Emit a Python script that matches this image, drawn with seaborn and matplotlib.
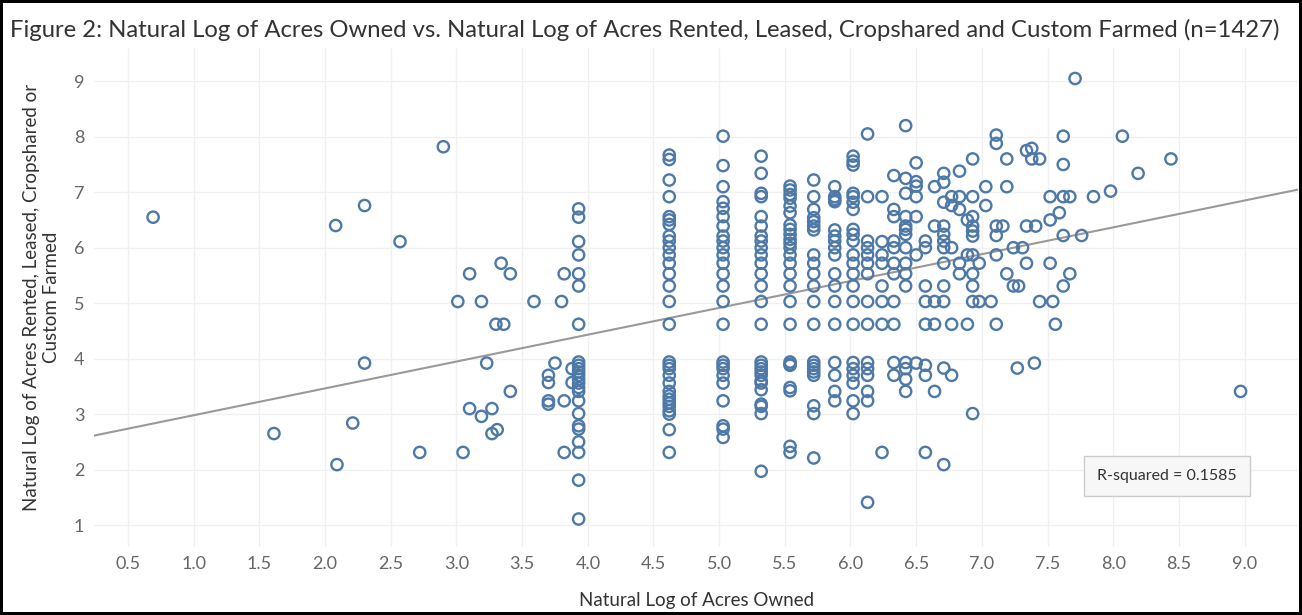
import numpy as np
import pandas as pd
import seaborn as sns
import matplotlib.pyplot as plt

# scattered points (ln acres owned, ln acres rented)
owned_scatter = [0.69, 1.61, 2.08, 2.30, 2.57, 2.90, 3.10, 3.34, 3.01, 3.19, 3.30, 3.36,
                 2.30, 3.23, 3.10, 3.27, 3.19, 3.27, 3.31, 2.21, 2.09, 2.72, 3.05, 3.41,
                 3.59, 3.80, 3.82, 3.41, 3.75, 3.70, 3.70, 3.70, 3.70, 3.82, 3.88, 3.88, 3.82]
rented_scatter = [6.55, 2.65, 6.40, 6.76, 6.11, 7.82, 5.53, 5.72, 5.03, 5.03, 4.62, 4.62,
                  3.92, 3.92, 3.10, 3.10, 2.96, 2.65, 2.72, 2.84, 2.09, 2.31, 2.31, 5.53,
                  5.03, 5.03, 5.53, 3.41, 3.92, 3.70, 3.57, 3.24, 3.18, 3.24, 3.82, 3.57, 2.31]

# vertical stacks at common owned values
stack_x = [3.93, 4.62, 5.03, 5.32, 5.54, 5.72, 5.88, 6.02, 6.13, 6.24, 6.33, 6.42]
stack_y = [
    [6.70, 6.55, 6.11, 5.87, 5.53, 5.31, 4.62, 3.94, 3.88, 3.82, 3.76, 3.70, 3.63, 3.56,
     3.48, 3.41, 3.24, 3.01, 2.79, 2.73, 2.50, 2.31, 1.81, 1.11],
    [7.67, 7.59, 7.22, 6.92, 6.56, 6.50, 6.42, 6.21, 6.12, 6.00, 5.87, 5.72, 5.53, 5.31,
     5.03, 4.62, 3.94, 3.88, 3.82, 3.70, 3.56, 3.41, 3.33, 3.27, 3.20, 3.14, 3.06, 3.00,
     2.72, 2.31],
    [8.01, 7.48, 7.10, 6.83, 6.71, 6.56, 6.39, 6.21, 6.12, 6.00, 5.87, 5.72, 5.53, 5.31,
     5.03, 4.62, 3.94, 3.88, 3.82, 3.70, 3.56, 3.24, 2.79, 2.73, 2.58],
    [7.65, 7.34, 6.98, 6.92, 6.56, 6.39, 6.21, 6.12, 6.00, 5.87, 5.72, 5.53, 5.31, 5.03,
     4.62, 3.94, 3.88, 3.82, 3.76, 3.70, 3.60, 3.56, 3.44, 3.18, 3.14, 3.01, 1.97],
    [7.11, 7.04, 6.96, 6.89, 6.75, 6.63, 6.41, 6.33, 6.24, 6.15, 6.08, 6.00, 5.87, 5.72,
     5.53, 5.31, 5.03, 4.62, 3.94, 3.90, 3.88, 3.48, 3.42, 2.42, 2.31],
    [7.22, 6.92, 6.69, 6.54, 6.47, 6.39, 6.32, 5.87, 5.72, 5.53, 5.31, 5.03, 4.62, 3.94,
     3.88, 3.82, 3.76, 3.70, 3.15, 3.01, 2.21],
    [7.10, 6.92, 6.87, 6.83, 6.32, 6.21, 6.12, 6.00, 5.87, 5.53, 5.31, 5.03, 4.62, 3.93,
     3.70, 3.41, 3.24],
    [7.65, 7.56, 7.49, 6.98, 6.92, 6.82, 6.69, 6.33, 6.24, 6.12, 5.87, 5.72, 5.53, 5.31,
     5.03, 4.62, 3.93, 3.82, 3.70, 3.56, 3.24, 3.01],
    [8.05, 6.92, 6.12, 6.00, 5.87, 5.72, 5.53, 5.03, 4.62, 3.93, 3.82, 3.70, 3.41, 3.24, 1.41],
    [6.92, 6.11, 5.87, 5.72, 5.31, 5.03, 4.62, 2.31],
    [7.30, 6.69, 6.56, 6.12, 6.00, 5.72, 5.53, 5.03, 4.62, 3.93, 3.70],
    [8.20, 7.25, 6.98, 6.56, 6.39, 6.33, 6.24, 6.00, 5.72, 5.53, 5.31, 3.93, 3.82, 3.63, 3.41],
]

# right-hand cloud
owned_right = [6.50, 6.50, 6.50, 6.50, 6.50, 6.50, 6.50,
               6.57, 6.57, 6.57, 6.57, 6.57, 6.57, 6.57, 6.57,
               6.64, 6.64, 6.64, 6.64, 6.64,
               6.71, 6.71, 6.71, 6.71, 6.71, 6.71, 6.71, 6.71, 6.71, 6.71, 6.71, 6.71,
               6.77, 6.77, 6.77, 6.77, 6.77,
               6.83, 6.83, 6.83, 6.83, 6.83,
               6.89, 6.89, 6.89,
               6.93, 6.93, 6.93, 6.93, 6.93, 6.93, 6.93, 6.93, 6.93, 6.93, 6.93,
               6.98, 6.98, 7.03, 7.03, 7.07,
               7.11, 7.11, 7.11, 7.11, 7.11, 7.11, 7.16, 7.19, 7.19, 7.19,
               7.24, 7.24, 7.27, 7.28, 7.31, 7.34, 7.34, 7.34, 7.38, 7.38, 7.40, 7.41,
               7.44, 7.44, 7.52, 7.52, 7.52, 7.54, 7.56, 7.59,
               7.62, 7.62, 7.62, 7.62, 7.62, 7.67, 7.67, 7.71, 7.76, 7.85, 7.98,
               8.07, 8.19, 8.44, 8.97]
rented_right = [7.53, 7.19, 7.11, 6.92, 6.56, 5.87, 3.92,
                6.12, 6.00, 5.31, 5.03, 4.62, 3.88, 3.70, 2.31,
                7.10, 6.39, 5.03, 4.62, 3.41,
                7.34, 7.18, 6.82, 6.39, 6.24, 6.12, 6.00, 5.72, 5.31, 5.03, 3.83, 2.09,
                6.92, 6.76, 6.00, 4.62, 3.70,
                7.38, 6.92, 6.69, 5.72, 5.53,
                6.50, 5.87, 4.62,
                7.60, 6.92, 6.56, 6.39, 6.30, 6.21, 5.87, 5.53, 5.31, 5.03, 3.01,
                5.72, 5.03, 7.10, 6.76, 5.03,
                8.03, 7.88, 6.39, 6.22, 5.87, 4.62, 6.39, 7.60, 7.10, 5.53,
                6.00, 5.31, 3.83, 5.31, 6.00, 7.75, 6.39, 5.72, 7.79, 7.60, 3.92, 6.39,
                7.60, 5.03, 6.92, 6.50, 5.72, 5.03, 4.62, 6.63,
                8.01, 7.50, 6.92, 6.22, 5.31, 6.92, 5.53, 9.05, 6.22, 6.92, 7.02,
                8.01, 7.34, 7.60, 3.41]

# trend line
trend_intercept = 2.497
trend_slope = 0.4837
r_squared = 0.1585

owned = owned_scatter + owned_right
rented = rented_scatter + rented_right
for xv, ys in zip(stack_x, stack_y):
    owned += [xv] * len(ys)
    rented += ys
df = pd.DataFrame({"owned": owned, "rented": rented})

sns.set_style("whitegrid")
plt.rcParams["font.family"] = ["Lato", "DejaVu Sans"]

fig = plt.figure(figsize=(13.02, 6.15), dpi=100)
fig.patch.set_edgecolor("black")
fig.patch.set_linewidth(3)
ax = fig.add_axes([0.0722, 0.111, 0.925, 0.811])

xlim = (0.24, 9.41)
trend_x = np.array(xlim)
trend_y = trend_intercept + trend_slope * trend_x
sns.lineplot(x=trend_x, y=trend_y, color="#999999", lw=1.5, ax=ax, zorder=2)

blue = "#4e79a7"
sns.scatterplot(data=df, x="owned", y="rented", ax=ax, s=66, facecolor="none",
                edgecolor=blue, linewidth=1.7, zorder=3)

ax.set_xlim(*xlim)
ax.set_ylim(0.61, 9.60)
ax.set_xticks(np.arange(0.5, 9.01, 0.5))
ax.set_xticklabels([f"{v:.1f}" for v in np.arange(0.5, 9.01, 0.5)])
ax.set_yticks(range(1, 10))
ax.tick_params(axis="both", labelsize=13, colors="#666666", length=0, pad=7)
ax.grid(True, color="#f0f0f0", lw=1)
for s in ax.spines.values():
    s.set_visible(False)

ax.set_xlabel("Natural Log of Acres Owned", fontsize=13.5, color="#333333", labelpad=14)
ax.set_ylabel("Natural Log of Acres Rented, Leased, Cropshared or\nCustom Farmed",
              fontsize=13.5, color="#333333", labelpad=10)

fig.text(0.008, 0.951, "Figure 2: Natural Log of Acres Owned vs. Natural Log of Acres Rented, "
         "Leased, Cropshared and Custom Farmed (n=1427)",
         fontsize=17.2, color="#333333", va="center", ha="left")

ax.text(0.891, 0.142, f"R-squared = {r_squared}", transform=ax.transAxes, fontsize=11.5,
        color="#333333", ha="center", va="center",
        bbox=dict(boxstyle="square,pad=0.8", fc="#f7f7f7", ec="#cccccc", lw=1))

plt.savefig("out.png", dpi=100)
